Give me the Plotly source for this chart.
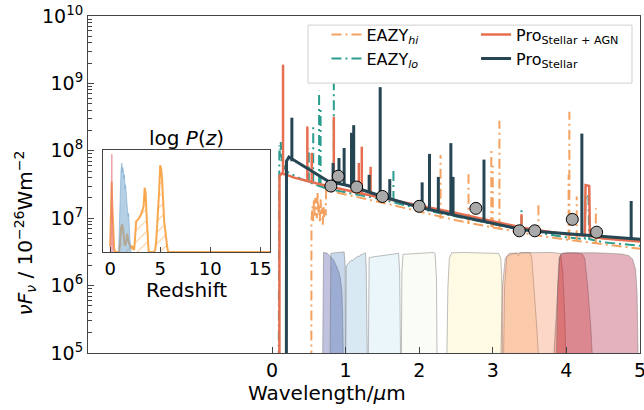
import plotly.graph_objects as go

# ---------------- photometry (NIRCam + F814W) ----------------
phot_wave = [0.80, 0.90, 1.15, 1.50, 2.00, 2.77, 3.36, 3.57, 4.08, 4.41]
phot_flux = [3.0e7, 4.2e7, 2.9e7, 2.1e7, 1.5e7, 1.4e7, 6.5e6, 6.5e6, 9.6e6, 6.2e6]

# ---------------- Prospector, stellar only ----------------
stellar_wave = [0.195, 0.197, 0.23, 0.50, 0.77, 1.00, 1.15, 1.50, 2.00, 2.50, 2.76,
                3.00, 3.36, 3.57, 4.00, 4.40, 5.00, 5.10]
stellar_flux = [1e4, 7.0e7, 8.1e7, 5.4e7, 3.5e7, 3.1e7, 2.8e7, 2.1e7, 1.45e7, 1.1e7,
                9.5e6, 8.4e6, 6.9e6, 6.4e6, 5.9e6, 5.4e6, 4.9e6, 4.8e6]
stellar_line_wave = [0.27, 0.83, 0.91, 0.98, 1.08, 1.11, 1.32, 1.47, 1.60, 2.04, 2.14,
                     2.26, 2.43, 2.46, 2.88, 4.21, 4.88]
stellar_line_base = [7.0e7, 3.4e7, 3.2e7, 3.1e7, 2.9e7, 2.85e7, 2.45e7, 2.15e7, 1.95e7,
                     1.4e7, 1.35e7, 1.25e7, 1.15e7, 1.13e7, 8.8e6, 5.8e6, 4.9e6]
stellar_line_peak = [3.1e8, 6.6e7, 7.8e7, 1.1e8, 1.85e8, 2.4e8, 4.4e7, 8.8e8, 3.8e7,
                     3.4e7, 9.0e7, 4.1e7, 1.3e8, 4.1e7, 7.4e7, 1.8e8, 1.8e7]

# ---------------- Prospector, stellar + AGN ----------------
agn_wave = [0.100, 0.102, 0.13, 0.20, 0.30, 0.45, 0.60, 0.75, 1.00, 1.50, 2.00, 2.50,
            3.00, 3.50, 4.00, 4.25, 4.26, 4.31, 4.32, 4.50, 5.00, 5.10]
agn_flux = [1e4, 4.2e7, 4.6e7, 4.4e7, 4.0e7, 3.6e7, 3.3e7, 3.0e7, 2.6e7, 2.0e7, 1.55e7,
            1.2e7, 9.0e6, 6.9e6, 5.8e6, 5.5e6, 3.1e7, 3.0e7, 5.4e6, 5.0e6, 4.5e6, 4.4e6]
agn_line_wave = [0.15, 0.48, 0.54, 0.84, 1.18, 1.22, 1.34, 3.39]
agn_line_base = [4.5e7, 3.7e7, 3.5e7, 2.9e7, 2.4e7, 2.3e7, 2.2e7, 8.0e6]
agn_line_peak = [1.9e9, 2.3e8, 9.3e7, 3.2e8, 6.6e7, 1.15e8, 5.8e7, 1.15e7]

# ---------------- EAZY, low-z solution ----------------
lo_wave = [0.090, 0.092, 0.10, 0.11, 0.12, 0.13, 0.14, 0.15, 0.17, 0.19, 0.22, 0.26,
           0.30, 0.40, 0.50, 0.60, 0.77, 1.00, 1.50, 2.00, 2.50, 3.00, 3.50, 4.00,
           4.25, 4.26, 4.30, 4.31, 4.50, 5.00, 5.10]
lo_flux = [1e4, 9e7, 1.2e8, 8e7, 1.35e8, 7e7, 9e7, 6.2e7, 5.6e7, 5.1e7, 4.8e7, 4.5e7,
           4.3e7, 3.8e7, 3.4e7, 3.1e7, 2.7e7, 2.4e7, 1.9e7, 1.38e7, 1.05e7, 8.2e6,
           6.4e6, 5.2e6, 4.9e6, 2.2e7, 2.1e7, 4.9e6, 4.4e6, 3.9e6, 3.8e6]
lo_line_wave = [0.50, 0.56, 0.64, 0.66, 0.84, 1.65, 3.39]
lo_line_base = [3.4e7, 3.3e7, 3.1e7, 3.0e7, 2.6e7, 1.8e7, 7.6e6]
lo_line_peak = [1.1e8, 2.5e8, 7.8e8, 4.5e8, 1.0e9, 5.5e7, 1.4e7]

# ---------------- EAZY, high-z solution ----------------
hi_wave = [0.534, 0.536, 0.55, 0.56, 0.57, 0.58, 0.59, 0.60, 0.61, 0.62, 0.63, 0.64,
           0.65, 0.66, 0.67, 0.68, 0.69, 0.70, 0.71, 0.72, 0.73, 0.735, 0.80, 1.00,
           1.50, 2.00, 2.50, 3.00, 3.50, 4.00, 4.50, 5.00, 5.10]
hi_flux = [1e4, 9e6, 1.5e7, 9e6, 1.9e7, 1.1e7, 2.0e7, 1.3e7, 1.0e7, 2.4e7, 1.2e7, 1.6e7,
           8.5e6, 1.9e7, 1.1e7, 1.4e7, 8e6, 1.5e7, 1.0e7, 1.3e7, 1.1e7, 2.6e7, 2.5e7,
           2.25e7, 1.7e7, 1.25e7, 9.3e6, 7.3e6, 5.8e6, 4.8e6, 4.1e6, 3.5e6, 3.4e6]
hi_line_wave = [2.29, 2.67, 2.98, 3.00, 3.09, 3.62, 4.03, 4.04, 4.14, 4.40]
hi_line_base = [9.8e6, 8.3e6, 7.4e6, 7.3e6, 7.0e6, 5.6e6, 4.8e6, 4.8e6, 4.7e6, 4.2e6]
hi_line_peak = [8.7e7, 4.5e7, 1.0e8, 6.0e7, 2.8e8, 1.6e7, 4.4e7, 3.8e8, 2.1e7, 1.4e7]

# ---------------- filter transmission curves ----------------
filter_top = 3.16e6  # flux level of unit transmission
filter_names = ["F070W", "F090W", "F115W", "F150W", "F200W",
                "F277W", "F335M", "F356W", "F410M", "F444W"]
filter_colors = ["#313695", "#4a7bb7", "#80b7d6", "#bde2ee", "#eef8df",
                 "#feeea5", "#fdbf71", "#f67b4a", "#da372a", "#a50026"]
filter_wave = [
    [0.685, 0.69, 0.70, 0.75, 0.79, 0.84, 0.88, 0.91, 0.93, 0.95, 0.96, 0.968, 0.975],
    [0.785, 0.79, 0.80, 0.85, 0.90, 0.98, 0.995, 1.0],
    [1.0, 1.005, 1.01, 1.03, 1.05, 1.06, 1.08, 1.10, 1.12, 1.14, 1.16, 1.18, 1.20,
     1.22, 1.24, 1.26, 1.27, 1.28, 1.29, 1.30],
    [1.305, 1.31, 1.32, 1.36, 1.40, 1.45, 1.50, 1.55, 1.60, 1.65, 1.70, 1.72, 1.735, 1.75],
    [1.755, 1.765, 1.78, 1.90, 2.00, 2.10, 2.20, 2.215, 2.235, 2.245],
    [2.37, 2.39, 2.41, 2.44, 2.60, 2.80, 3.00, 3.08, 3.11, 3.125, 3.135],
    [3.14, 3.16, 3.19, 3.25, 3.32, 3.35, 3.365, 3.38, 3.45, 3.51, 3.53, 3.56, 3.59, 3.62],
    [3.10, 3.13, 3.17, 3.22, 3.40, 3.60, 3.80, 3.92, 3.95, 3.98, 4.00],
    [3.82, 3.86, 3.89, 3.91, 3.95, 4.05, 4.15, 4.22, 4.25, 4.29, 4.33, 4.36],
    [3.86, 3.88, 3.90, 3.93, 4.00, 4.20, 4.40, 4.60, 4.75, 4.85, 4.90, 4.94, 4.96, 4.98],
]
filter_trans = [
    [0.01, 0.6, 0.98, 0.96, 0.86, 0.75, 0.6, 0.5, 0.4, 0.26, 0.12, 0.03, 0.01],
    [0.01, 0.6, 0.95, 0.97, 0.98, 1.0, 0.6, 0.01],
    [0.01, 0.4, 0.62, 0.66, 0.70, 0.72, 0.76, 0.74, 0.80, 0.82, 0.86, 0.84, 0.90,
     0.92, 0.93, 0.97, 0.96, 0.6, 0.15, 0.01],
    [0.01, 0.5, 0.82, 0.84, 0.85, 0.86, 0.88, 0.90, 0.91, 0.93, 0.95, 0.96, 0.5, 0.01],
    [0.01, 0.5, 0.92, 0.94, 0.95, 0.96, 0.98, 0.95, 0.4, 0.01],
    [0.01, 0.3, 0.8, 0.97, 0.98, 0.97, 0.97, 0.95, 0.8, 0.3, 0.01],
    [0.01, 0.3, 0.85, 0.92, 0.96, 0.88, 0.95, 0.97, 0.98, 0.97, 0.8, 0.32, 0.1, 0.03],
    [0.01, 0.3, 0.8, 0.95, 0.97, 0.98, 0.98, 0.95, 0.5, 0.1, 0.01],
    [0.02, 0.1, 0.4, 0.85, 0.95, 0.97, 0.96, 0.92, 0.8, 0.3, 0.08, 0.02],
    [0.01, 0.3, 0.8, 0.95, 0.97, 0.98, 0.97, 0.95, 0.93, 0.88, 0.78, 0.55, 0.25, 0.01],
]

# ---------------- redshift probability distributions ----------------
pz_z_hi = [0.0, 0.05, 0.1, 0.15, 0.2, 0.3, 0.4, 0.5, 0.9, 1.0, 1.1, 1.2, 1.3, 1.4, 1.5,
           1.6, 1.7, 1.8, 1.9, 2.0, 2.1, 2.2, 2.3, 2.4, 2.45, 2.6, 2.8, 3.0, 3.2, 3.35,
           3.45, 3.55, 3.65, 3.75, 3.85, 4.4, 4.5, 4.6, 4.7, 4.8, 4.9, 5.0, 5.1, 5.2,
           5.3, 5.4, 5.5, 5.6, 5.7, 5.8, 16.0]
pz_p_hi = [0.05, 0.3, 0.55, 0.69, 0.5, 0.2, 0.03, 0.0, 0.0, 0.1, 0.24, 0.27, 0.22, 0.12,
           0.06, 0.1, 0.18, 0.12, 0.08, 0.05, 0.04, 0.06, 0.03, 0.02, 0.08, 0.3, 0.32,
           0.35, 0.40, 0.45, 0.63, 0.58, 0.35, 0.15, 0.0, 0.0, 0.02, 0.1, 0.24, 0.4,
           0.6, 0.85, 0.82, 0.7, 0.45, 0.3, 0.22, 0.1, 0.05, 0.0, 0.0]
pz_z_agn = [0.0, 0.08, 0.13, 0.17, 0.21, 0.26, 0.32]
pz_p_agn = [0.0, 0.15, 0.5, 0.96, 0.45, 0.1, 0.0]
pz_z_stellar = [0.85, 0.92, 0.98, 1.03, 1.08, 1.13, 1.17, 1.21, 1.26, 1.31, 1.36, 1.42,
                1.48, 1.54, 1.60, 1.66, 1.72, 1.78, 1.85, 1.92, 2.00, 2.08]
pz_p_stellar = [0.0, 0.3, 0.55, 0.7, 0.8, 0.84, 0.87, 0.78, 0.83, 0.8, 0.72, 0.76, 0.62,
                0.66, 0.55, 0.5, 0.42, 0.35, 0.38, 0.2, 0.08, 0.0]

# ---------------- tick labels ----------------
wave_ticks = [0, 1, 2, 3, 4, 5]
flux_ticks = [1e5, 1e6, 1e7, 1e8, 1e9, 1e10]
flux_ticktext = ["10<sup>5</sup>", "10<sup>6</sup>", "10<sup>7</sup>",
                 "10<sup>8</sup>", "10<sup>9</sup>", "10<sup>10</sup>"]
z_ticks = [0, 5, 10, 15]

C_HI, C_LO, C_AGN, C_STEL = "#f4a261", "#2a9d8f", "#e76f51", "#264653"
C_PZ = "rgba(247,160,60,0.9)"
FONT = "DejaVu Sans"
DASHDOT = "10px,4px,2px,4px"


def rgba(hexcol, a):
    h = hexcol.lstrip("#")
    return "rgba(%d,%d,%d,%.2f)" % (int(h[0:2], 16), int(h[2:4], 16), int(h[4:6], 16), a)


def spikes(wave, base, peak):
    xs, ys = [], []
    for w, b, p in zip(wave, base, peak):
        xs += [w, w, None]
        ys += [b, p, None]
    return xs, ys


fig = go.Figure()

# filter curves, filled with transparency
for name, col, w, t in zip(filter_names, filter_colors, filter_wave, filter_trans):
    fig.add_trace(go.Scatter(
        x=w, y=[filter_top * v for v in t], mode="lines", fill="toself",
        fillcolor=rgba(col, 0.3), line=dict(color="rgba(110,110,110,0.45)", width=1),
        name=name, showlegend=False, hoverinfo="skip"))

# spectra: continuum + emission lines
series = [
    ("EAZY<sub><i>hi</i></sub>", C_HI, DASHDOT, 2, hi_wave, hi_flux,
     hi_line_wave, hi_line_base, hi_line_peak, "legend", 1),
    ("EAZY<sub><i>lo</i></sub>", C_LO, DASHDOT, 2, lo_wave, lo_flux,
     lo_line_wave, lo_line_base, lo_line_peak, "legend", 2),
    ("Pro<sub>Stellar + AGN</sub>", C_AGN, "solid", 2.5, agn_wave, agn_flux,
     agn_line_wave, agn_line_base, agn_line_peak, "legend2", 1),
    ("Pro<sub>Stellar</sub>", C_STEL, "solid", 3, stellar_wave, stellar_flux,
     stellar_line_wave, stellar_line_base, stellar_line_peak, "legend2", 2),
]
draw_order = [1, 0, 2, 3]
for i in draw_order:
    name, col, dash, lw, w, f, lw_, lb, lp, leg, rank = series[i]
    sx, sy = spikes(lw_, lb, lp)
    fig.add_trace(go.Scatter(x=sx, y=sy, mode="lines", showlegend=False,
                             line=dict(color=col, width=lw, dash=dash), hoverinfo="skip"))
    fig.add_trace(go.Scatter(x=w, y=f, mode="lines", name=name, legend=leg,
                             legendrank=rank, line=dict(color=col, width=lw, dash=dash)))

# photometry
fig.add_trace(go.Scatter(
    x=phot_wave, y=phot_flux, mode="markers", showlegend=False,
    marker=dict(size=12, color="#a9a9a9", line=dict(color="black", width=1))))

# inset: P(z)
fig.add_trace(go.Scatter(
    x=pz_z_hi, y=pz_p_hi, xaxis="x2", yaxis="y2", mode="lines", fill="tozeroy",
    fillcolor="rgba(0,0,0,0)", showlegend=False,
    line=dict(color=C_PZ, width=2),
    fillpattern=dict(shape="/", fgcolor=C_PZ, bgcolor="rgba(0,0,0,0)",
                     size=8, solidity=0.15)))
fig.add_trace(go.Scatter(
    x=pz_z_stellar, y=pz_p_stellar, xaxis="x2", yaxis="y2", mode="lines",
    fill="tozeroy", fillcolor="rgba(120,168,208,0.55)", showlegend=False,
    line=dict(color="rgba(120,168,208,0.6)", width=1)))
fig.add_trace(go.Scatter(
    x=pz_z_agn, y=pz_p_agn, xaxis="x2", yaxis="y2", mode="lines",
    fill="tozeroy", fillcolor="rgba(232,120,130,0.55)", showlegend=False,
    line=dict(color="rgba(232,120,130,0.6)", width=1)))

tick_font = dict(family=FONT, size=19, color="black")
inset_tick_font = dict(family=FONT, size=18, color="black")
label_font = dict(family=FONT, size=20, color="black")
legend_font = dict(family=FONT, size=16, color="black")
minor_vals = [m * 10 ** e for e in range(5, 10) for m in range(2, 10)]

fig.update_layout(
    width=644, height=410,
    margin=dict(l=88, r=4, t=16, b=57),
    paper_bgcolor="white", plot_bgcolor="white",
    font=dict(family=FONT, size=18, color="black"),
    xaxis=dict(range=[-2.5, 5], tickvals=wave_ticks, ticks="inside", ticklen=6,
               tickcolor="#444", showline=True, mirror=True, linecolor="#444",
               linewidth=1.2, showgrid=False, zeroline=False, tickfont=tick_font,
               ticklabeloverflow="allow", automargin=False),
    yaxis=dict(type="log", range=[5, 10], tickvals=flux_ticks, ticktext=flux_ticktext,
               ticks="inside", ticklen=6, tickcolor="#444", showline=True, mirror=True,
               linecolor="#444", linewidth=1.2, showgrid=False, zeroline=False,
               tickfont=tick_font, automargin=False,
               minor=dict(tickmode="array", tickvals=minor_vals, ticks="inside",
                          ticklen=3.5, tickcolor="#444", showgrid=False)),
    xaxis2=dict(domain=[0.028, 0.330], anchor="y2", range=[-0.67, 16], tickvals=z_ticks,
                ticks="inside", ticklen=5, tickcolor="#444", showline=True, mirror=True,
                linecolor="#444", linewidth=1.2, showgrid=False, zeroline=False,
                tickfont=inset_tick_font, automargin=False),
    yaxis2=dict(domain=[0.300, 0.602], anchor="x2", range=[0, 1.0], showticklabels=False,
                ticks="", showline=True, mirror=True, linecolor="#444", linewidth=1.2,
                showgrid=False, zeroline=False, automargin=False),
    legend=dict(x=0.432, y=0.995, xanchor="left", yanchor="top",
                bgcolor="rgba(0,0,0,0)", font=legend_font, tracegroupgap=0),
    legend2=dict(x=0.703, y=0.995, xanchor="left", yanchor="top",
                 bgcolor="rgba(0,0,0,0)", font=legend_font, tracegroupgap=0),
    shapes=[dict(type="rect", xref="paper", yref="paper", x0=0.3986, x1=0.9855,
                 y0=0.801, y1=0.973, layer="above",
                 fillcolor="rgba(255,255,255,0.8)", line=dict(color="#d0d0d0", width=1))],
    annotations=[
        dict(text="log <i>P</i>(<i>z</i>)", xref="paper", yref="paper", x=0.179, y=0.638,
             showarrow=False, font=label_font, xanchor="center", yanchor="middle"),
        dict(text="Redshift", xref="paper", yref="paper", x=0.179, y=0.186,
             showarrow=False, font=label_font, xanchor="center", yanchor="middle"),
        dict(text="Wavelength/<i>μ</i>m", xref="paper", yref="paper", x=0.433, y=-0.119,
             showarrow=False, font=label_font, xanchor="center", yanchor="middle"),
        dict(text="<i>νF<sub>ν</sub></i> / 10<sup>−26</sup>Wm<sup>−2</sup>",
             xref="paper", yref="paper", x=-0.114, y=0.355, textangle=-90,
             showarrow=False, font=label_font, xanchor="center", yanchor="middle"),
    ],
)

fig.write_html("out.html")
